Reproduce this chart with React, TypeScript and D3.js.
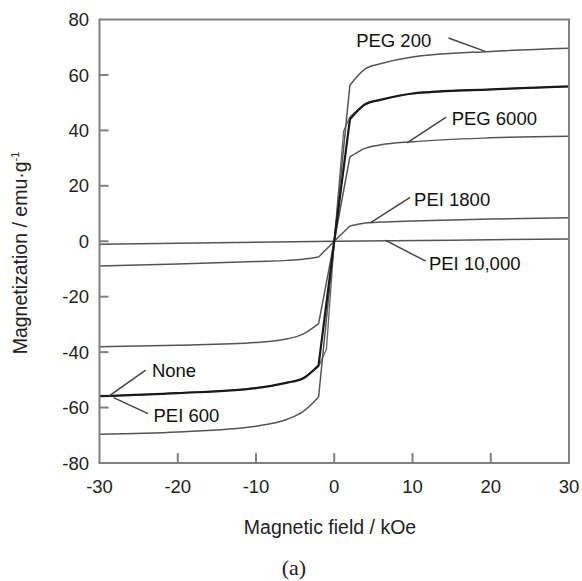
import React from "react";
import * as d3 from "d3";

const W = 582;
const H = 581;

// Field values (kOe) shared by most series
const field = [-30, -20, -10, -6, -4, -2, 0, 2, 4, 6, 10, 20, 30];
const fieldPEI600 = [-30, -20, -10, -6, -4, -2, -1, 0, 1.2, 2, 4, 6, 10, 20, 30];
const fieldPEI10000 = [-30, -15, 0, 15, 30];

// Magnetization values (emu/g)
const peg200 = [-69.6, -68.8, -66.7, -64.2, -61.5, -56.2, 0, 56.3, 62.3, 64.1, 66.5, 68.5, 69.6];
const none = [-55.9, -54.8, -53.0, -51.0, -49.5, -44.7, 0, 44.0, 49.5, 51.1, 53.3, 54.8, 55.9];
const pei600 = [-55.8, -54.7, -52.9, -50.9, -49.3, -45.3, -39, 0, 39.8, 44.8, 49.4, 51.0, 53.2, 54.7, 55.8];
const peg6000 = [-38.1, -37.5, -36.5, -35.2, -33.5, -29.7, 0, 30.4, 33.6, 34.8, 35.9, 37.3, 37.9];
const pei1800 = [-8.9, -8.2, -7.3, -6.9, -6.5, -5.7, 0, 5.5, 6.6, 6.9, 7.3, 8.0, 8.5];
const pei10000 = [-1.1, -0.5, 0, 0.4, 0.85];

const xTicks = [-30, -20, -10, 0, 10, 20, 30];
const yTicks = [-80, -60, -40, -20, 0, 20, 40, 60, 80];

// Annotation labels: text, text anchor (data), leader line start & end (data)
const labelNames = ["PEG 200", "PEG 6000", "PEI 1800", "PEI 10,000", "None", "PEI 600"];
const labelPos = [
  [2.8, 72.5],
  [15.0, 44.4],
  [10.2, 15.2],
  [12.1, -7.8],
  [-23.3, -46.5],
  [-23.1, -62.8],
];
const leaders = [
  [[14.6, 73.3], [19.3, 68.5]],
  [[14.3, 44.8], [9.3, 35.5]],
  [[9.7, 15.8], [4.6, 6.6]],
  [[11.7, -7.2], [6.5, 0.4]],
  [[-24.1, -46.5], [-28.8, -55.9]],
  [[-23.8, -62.2], [-28.2, -56.4]],
];

type Series = { xs: number[]; ys: number[]; color: string; width: number };

const seriesList: Series[] = [
  { xs: fieldPEI10000, ys: pei10000, color: "#555", width: 1.5 },
  { xs: field, ys: pei1800, color: "#555", width: 1.5 },
  { xs: field, ys: peg6000, color: "#555", width: 1.5 },
  { xs: fieldPEI600, ys: pei600, color: "#666", width: 1.3 },
  { xs: field, ys: peg200, color: "#555", width: 1.5 },
  { xs: field, ys: none, color: "#1a1a1a", width: 2.2 },
];

export default function App() {
  const left = 99.5, right = 569, top = 19.5, bottom = 463;
  const x = d3.scaleLinear().domain([-30, 30]).range([left, right]);
  const y = d3.scaleLinear().domain([-80, 80]).range([bottom, top]);
  const smooth = d3
    .line<[number, number]>()
    .x((d) => x(d[0]))
    .y((d) => y(d[1]))
    .curve(d3.curveMonotoneX);
  const straight = d3
    .line<[number, number]>()
    .x((d) => x(d[0]))
    .y((d) => y(d[1]));

  // saturation branches are smooth, the steep central part is straight
  const seriesPath = (s: Series) => {
    const pts = s.xs.map((v, j) => [v, s.ys[j]] as [number, number]);
    const hasKinks = s.xs.includes(-2) && s.xs.includes(2);
    if (!hasKinks) return straight(pts) || "";
    const lo = pts.filter((p) => p[0] <= -2);
    const mid = pts.filter((p) => p[0] >= -2 && p[0] <= 2);
    const hi = pts.filter((p) => p[0] >= 2);
    return (smooth(lo) || "") + (straight(mid) || "") + (smooth(hi) || "");
  };

  const font = "'Liberation Sans', Arial, sans-serif";
  const axisColor = "#808080";

  return (
    <svg width={W} height={H} style={{ position: "absolute", left: 0, top: 0, background: "#fff" }}>
      {/* series */}
      {seriesList.map((s, i) => (
        <path
          key={i}
          d={seriesPath(s)}
          fill="none"
          stroke={s.color}
          strokeWidth={s.width}
          strokeLinejoin="round"
        />
      ))}
      {/* frame */}
      <rect x={left} y={top} width={right - left} height={bottom - top} fill="none" stroke={axisColor} strokeWidth={2} />
      {/* y ticks */}
      {yTicks.map((t) => (
        <g key={"y" + t}>
          {t > -80 && t < 80 && (
            <line x1={left} x2={left + 9} y1={y(t)} y2={y(t)} stroke={axisColor} strokeWidth={2} />
          )}
          <text x={89} y={y(t)} dy="0.36em" textAnchor="end" fontFamily={font} fontSize={18.5} fill="#222">
            {t}
          </text>
        </g>
      ))}
      {/* x ticks */}
      {xTicks.map((t) => (
        <g key={"x" + t}>
          {t > -30 && t < 30 && (
            <line x1={x(t)} x2={x(t)} y1={bottom} y2={bottom - 10} stroke={axisColor} strokeWidth={2} />
          )}
          <text x={x(t)} y={493} textAnchor="middle" fontFamily={font} fontSize={18.5} fill="#222">
            {t}
          </text>
        </g>
      ))}
      {/* leader lines & labels */}
      {labelNames.map((n, i) => (
        <g key={n}>
          <line
            x1={x(leaders[i][0][0])}
            y1={y(leaders[i][0][1])}
            x2={x(leaders[i][1][0])}
            y2={y(leaders[i][1][1])}
            stroke="#444"
            strokeWidth={1.5}
          />
          <text x={x(labelPos[i][0])} y={y(labelPos[i][1])} dy="0.36em" fontFamily={font} fontSize={18.5} fill="#111">
            {n}
          </text>
        </g>
      ))}
      {/* axis titles */}
      <text x={330} y={534} textAnchor="middle" fontFamily={font} fontSize={19.5} fill="#222">
        Magnetic field / kOe
      </text>
      <text
        transform={`translate(27,253) rotate(-90)`}
        textAnchor="middle"
        fontFamily={font}
        fontSize={19.5}
        fill="#222"
      >
        Magnetization / emu·g
        <tspan fontSize={11} dy={-8}>-1</tspan>
      </text>
      <text x={294} y={575} textAnchor="middle" fontFamily="'Liberation Serif', 'Times New Roman', serif" fontSize={22} fill="#222">
        (a)
      </text>
    </svg>
  );
}
